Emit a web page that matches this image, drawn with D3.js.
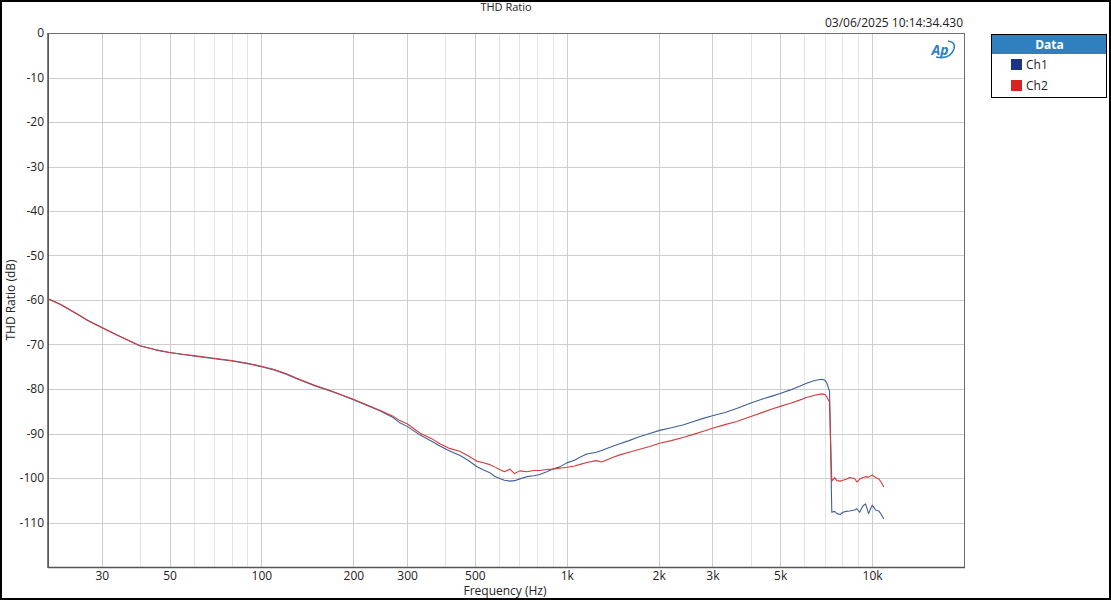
<!DOCTYPE html>
<html><head><meta charset="utf-8">
<script src="https://cdn.jsdelivr.net/npm/d3@7"></script>
<style>
html,body{margin:0;padding:0;background:#fff;}
svg text{font-family:"Open Sans","Noto Sans",sans-serif;}
</style></head>
<body>
<svg id="c" width="1111" height="600"></svg>
<script>
const freqs = [20,22,25,27,30,33,36,40,45,50,55,60,70,80,90,100,110,120,133,150,167,180,200,220,244,270,
 284,300,330,360,384,415,446,475,507,530,560,580,603,625,651,675,702,740,780,816,860,900,949,1000,1060,1100,1162,1250,1300,1400,1491,1600,1700,1868,2015,2200,2400,2600,2800,3000,3300,3600,4032,4400,4700,5000,5400,5788,6100,6482,6834,7000,7096,7256,
 7380,7540,7670,7870,8020,8230,8440,8760,8920,9100,9330,9520,9740,10010,10270,10520,10720,10930];
const ch1 = [-59.7,-61.0,-63.2,-64.6,-66.2,-67.6,-68.8,-70.3,-71.2,-71.8,-72.2,-72.6,-73.2,-73.7,-74.3,-75.0,-75.7,-76.6,-77.9,-79.3,-80.4,-81.2,-82.4,-83.6,-84.9,-86.4,
 -87.6,-88.4,-90.3,-91.7,-92.8,-94.0,-94.9,-96.0,-97.4,-98.1,-98.8,-99.6,-100.1,-100.5,-100.7,-100.6,-100.2,-99.7,-99.5,-99.2,-98.6,-98.0,-97.5,-96.6,-96.0,-95.4,-94.6,-94.2,-93.8,-93.0,-92.3,-91.6,-90.9,-90.0,-89.3,-88.7,-88.1,-87.3,-86.6,-86.0,-85.3,-84.4,-83.1,-82.2,-81.6,-81.0,-80.2,-79.4,-78.7,-78.1,-77.8,-78.0,-78.5,-80.5,
 -107.7,-107.5,-108.0,-108.2,-107.7,-107.5,-107.4,-107.2,-106.9,-107.7,-106.3,-105.8,-108.0,-106.1,-107.2,-107.4,-108.2,-109.2];
const ch2 = [-59.7,-61.0,-63.2,-64.6,-66.2,-67.6,-68.8,-70.3,-71.2,-71.8,-72.2,-72.5,-73.1,-73.6,-74.2,-74.9,-75.6,-76.5,-77.8,-79.2,-80.3,-81.1,-82.3,-83.5,-84.8,-86.1,
 -87.1,-87.8,-89.9,-91.1,-92.3,-93.4,-94.0,-95.0,-96.2,-96.5,-97.0,-97.5,-98.1,-98.6,-98.0,-99.0,-98.4,-98.6,-98.3,-98.3,-98.1,-98.0,-97.8,-97.6,-97.3,-97.0,-96.5,-96.1,-96.4,-95.5,-94.8,-94.2,-93.7,-92.9,-92.2,-91.6,-90.9,-90.2,-89.5,-88.8,-88.0,-87.3,-86.1,-85.2,-84.5,-83.9,-83.2,-82.5,-81.9,-81.4,-81.1,-81.2,-81.7,-83.0,
 -100.7,-99.9,-100.6,-100.7,-100.5,-100.3,-99.9,-100.1,-100.9,-100.3,-99.9,-99.7,-99.8,-99.3,-99.9,-100.2,-101.0,-102.0];
const seriesNames = ["Ch1","Ch2"];
const seriesColors = ["#3f5f98","#d13d3d"];
const swatchColors = ["#1b3580","#d42424"];
const xTickValues = [30,50,100,200,300,500,1000,2000,3000,5000,10000];
const xTickLabels = ["30","50","100","200","300","500","1k","2k","3k","5k","10k"];
const yTickValues = [0,-10,-20,-30,-40,-50,-60,-70,-80,-90,-100,-110];
const titleText = "THD Ratio";
const stampText = "03/06/2025 10:14:34.430";
const xLabel = "Frequency (Hz)";
const yLabel = "THD Ratio (dB)";

const svg = d3.select("#c");
const L=48, T=33, R=964, B=567;
const x = d3.scaleLog().domain([20,20000]).range([L,R]);
const y = d3.scaleLinear().domain([-120,0]).range([B,T]);

// outer frame
svg.append("rect").attr("x",1).attr("y",1).attr("width",1109).attr("height",598)
  .attr("fill","#fff").attr("stroke","#000").attr("stroke-width",2);

// minor grid
const minor=[];
[10,100,1000,10000].forEach(d=>{for(let k=1;k<10;k++){const v=d*k; if(v>20&&v<20000) minor.push(v);}});
svg.append("g").selectAll("line").data(minor.filter(v=>!xTickValues.includes(v))).join("line")
  .attr("x1",d=>Math.round(x(d))+0.5).attr("x2",d=>Math.round(x(d))+0.5).attr("y1",T).attr("y2",B)
  .attr("stroke","#e4e4e4").attr("stroke-width",1);
svg.append("g").selectAll("line").data(xTickValues).join("line")
  .attr("x1",d=>Math.round(x(d))+0.5).attr("x2",d=>Math.round(x(d))+0.5).attr("y1",T).attr("y2",B)
  .attr("stroke","#cdcdcd").attr("stroke-width",1);
svg.append("g").selectAll("line").data(yTickValues.filter(v=>v!==0)).join("line")
  .attr("x1",L).attr("x2",R).attr("y1",d=>Math.round(y(d))+0.5).attr("y2",d=>Math.round(y(d))+0.5)
  .attr("stroke","#cdcdcd").attr("stroke-width",1);

// plot frame
svg.append("rect").attr("x",L+0.5).attr("y",T+0.5).attr("width",R-L).attr("height",B-T)
  .attr("fill","none").attr("stroke","#6e6e6e").attr("stroke-width",1);
svg.append("line").attr("x1",L).attr("x2",L).attr("y1",T).attr("y2",B+1).attr("stroke","#555").attr("stroke-width",1.5);
svg.append("line").attr("x1",L).attr("x2",R+1).attr("y1",B+0.5).attr("y2",B+0.5).attr("stroke","#555").attr("stroke-width",1.5);

// axes text
const xAxis = d3.axisBottom(x).tickValues(xTickValues).tickFormat((d,i)=>xTickLabels[i]).tickSize(0).tickPadding(4);
const gx = svg.append("g").attr("transform",`translate(0,${B})`).call(xAxis);
gx.select(".domain").remove();
gx.selectAll("text").attr("font-size",12).attr("fill","#222").attr("font-family","'Open Sans','Noto Sans',sans-serif");
const yAxis = d3.axisLeft(y).tickValues(yTickValues).tickFormat(d=>String(d)).tickSize(0).tickPadding(4);
const gy = svg.append("g").attr("transform",`translate(${L},0)`).call(yAxis);
gy.select(".domain").remove();
gy.selectAll("text").attr("font-size",12).attr("fill","#222").attr("font-family","'Open Sans','Noto Sans',sans-serif");

svg.append("text").attr("x",506).attr("y",11).attr("text-anchor","middle").attr("font-size",11).attr("fill","#222").text(titleText);
svg.append("text").attr("x",963).attr("y",27).attr("text-anchor","end").attr("font-size",12).attr("fill","#222").text(stampText);
svg.append("text").attr("x",505).attr("y",595).attr("text-anchor","middle").attr("font-size",12).attr("fill","#222").text(xLabel);
svg.append("text").attr("transform","translate(15,300) rotate(-90)").attr("text-anchor","middle").attr("font-size",12).attr("fill","#222").text(yLabel);

// AP logo
const lg = svg.append("g").attr("transform","translate(942,50)");
lg.append("path").attr("d","M-6,7 Q8,10 12,-1 Q14,-8 6,-9").attr("fill","none").attr("stroke","#2f7fc4").attr("stroke-width",1.6);
lg.append("text").attr("x",-2).attr("y",5).attr("text-anchor","middle").attr("font-size",14).attr("font-weight","bold")
  .attr("font-style","italic").attr("fill","#2f7fc4").attr("font-family","'DejaVu Sans',sans-serif").text("Ap");

// lines
const line = d3.line().x((d,i)=>x(freqs[i])).y(d=>y(d));
[ch1,ch2].forEach((s,k)=>{
  svg.append("path").datum(s).attr("d",line).attr("fill","none").attr("stroke",seriesColors[k])
    .attr("stroke-width",1.1).attr("stroke-linejoin","round");
});

// legend
const lgX=991, lgY=34, lgW=115, lgH=63;
svg.append("rect").attr("x",lgX+0.5).attr("y",lgY+0.5).attr("width",lgW).attr("height",lgH).attr("fill","#fff").attr("stroke","#000");
svg.append("rect").attr("x",lgX+1).attr("y",lgY+1).attr("width",lgW-1).attr("height",19).attr("fill","#2f80c0");
svg.append("text").attr("x",lgX+lgW/2+1).attr("y",lgY+15).attr("text-anchor","middle").attr("font-size",12).attr("font-weight","bold").attr("fill","#fff").text("Data");
seriesNames.forEach((n,i)=>{
  svg.append("rect").attr("x",1011).attr("y",59+i*21).attr("width",11).attr("height",11).attr("fill",swatchColors[i]);
  svg.append("text").attr("x",1026).attr("y",69+i*21).attr("font-size",12).attr("fill","#222").text(n);
});
</script>
</body></html>
